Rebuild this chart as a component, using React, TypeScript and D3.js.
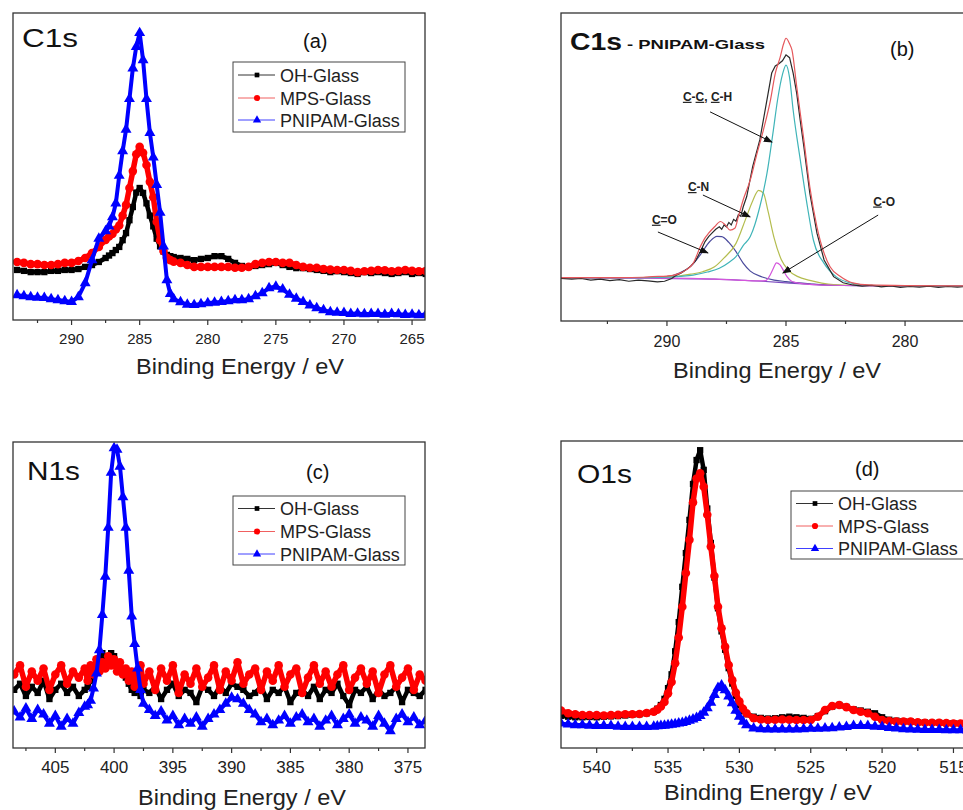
import React from 'react';
import * as d3 from 'd3';

const FONT = "'Liberation Sans', Arial, Helvetica, sans-serif";

// ---------- Panel (a) C1s : energy grid (eV) and intensities (a.u., % of panel) ----------
const aEnergy = [
  ...d3.range(294, 287.4, -0.5),
  ...d3.range(287.25, 282.4, -0.25),
  ...d3.range(282, 263.9, -0.5),
];
const aOH = [
  16.3, 16.0, 15.6, 15.6, 15.6, 16.0, 16.0, 16.3, 16.3, 16.6, 17.3, 17.9, 18.9, 20.2,
  21.0, 21.8, 22.8, 23.8, 26.0, 28.3, 32.5, 36.8, 41.5, 43.0, 41.4, 38.0, 34.0, 30.5, 26.5, 24.0, 22.3, 21.2, 20.8, 20.5,
  20.2, 19.9, 19.5, 19.9, 20.2, 20.8, 20.8, 19.9, 18.6, 17.6,
  17.3, 17.6, 17.9, 18.2, 18.6, 17.9, 17.3, 16.9, 16.9, 16.6,
  16.3, 16.0, 15.6, 15.9, 15.6, 15.3, 15.0, 15.6, 15.3, 15.6,
  15.3, 15.0, 15.3, 15.6, 15.0, 15.3, 15.0,
];
const aMPS = [
  18.9, 18.6, 18.2, 18.2, 17.9, 17.9, 18.2, 18.6, 18.6, 19.2, 20.2, 21.8, 23.8, 26.1,
  27.2, 28.0, 29.5, 30.8, 34.0, 37.5, 43.0, 48.5, 54.0, 56.4, 54.5, 50.5, 45.0, 40.0, 32.0, 26.0, 22.5, 20.3, 19.5, 19.0,
  18.6, 17.9, 17.3, 17.3, 17.3, 17.3, 17.3, 17.3, 17.0, 17.0,
  17.3, 18.2, 18.6, 18.9, 18.9, 18.6, 18.6, 17.9, 17.3, 17.0,
  17.0, 16.6, 16.4, 16.3, 16.3, 16.0, 15.6, 15.9, 16.0, 16.3,
  16.2, 15.9, 16.0, 16.3, 16.0, 15.9, 16.0,
];
const aPNIPAM = [
  8.1, 7.8, 7.5, 7.3, 7.2, 6.8, 6.5, 6.2, 5.9, 7.5, 12.0, 19.5, 26.5, 29.0,
  30.5, 33.5, 38.0, 47.0, 55.0, 62.0, 72.0, 82.0, 89.0, 93.5, 84.7, 72.0, 61.0, 53.0, 44.0, 35.0, 24.0, 13.0, 8.5, 6.8,
  5.8, 5.0, 4.9, 5.2, 5.5, 5.7, 5.9, 6.2, 6.5, 6.5,
  6.8, 7.8, 8.8, 10.4, 10.9, 10.0, 8.3, 7.0, 5.9, 4.8,
  3.9, 3.2, 2.6, 2.4, 2.3, 2.0, 2.1, 1.9, 2.0, 2.0,
  1.8, 2.0, 1.9, 1.7, 1.8, 1.6, 1.7,
];
const aMajor = [290, 285, 280, 275, 270, 265];
const aMinor = [292.5, 287.5, 282.5, 277.5, 272.5, 267.5];

// ---------- Panel (c) N1s ----------
const cEnergy = [
  ...d3.range(408.5, 402.4, -0.5),
  ...d3.range(402.25, 397.4, -0.25),
  ...d3.range(397, 373.4, -0.5),
];
const cOH = [
  19, 21, 17, 20, 18, 22, 16, 19, 21, 18, 20, 17, 19,
  20, 22, 24, 27, 29, 31, 30, 29, 31, 30, 28, 27, 25, 23, 21, 19, 18, 20, 17, 19,
  18, 20, 16, 19, 21, 17, 19, 18, 15, 20,
  19, 17, 20, 18, 21, 20, 19, 17, 18, 20,
  16, 19, 18, 20, 15, 18, 19, 17, 20, 16,
  19, 18, 21, 17, 14, 19, 18, 20, 16, 19,
  17, 18, 20, 15, 19, 18, 17, 19,
];
const cMPS = [
  24, 27, 20, 25, 22, 26, 19, 24, 27, 21, 25, 23, 26,
  22, 27, 24, 29, 25, 28, 26, 30, 27, 29, 25, 28, 24, 26, 22, 25, 20, 24, 27, 21,
  25, 19, 26, 22, 27, 18, 24, 21, 26, 20,
  23, 27, 19, 25, 22, 28, 21, 24, 26, 19,
  25, 22, 27, 20, 24, 26, 18, 23, 27, 21,
  25, 20, 24, 27, 19, 23, 26, 21, 25, 18,
  24, 27, 20, 23, 26, 19, 24, 22,
];
const cPNIPAM = [
  12.0, 10.0, 13.0, 9.5, 12.5, 11.0, 8.0, 10.5, 7.0, 9.5, 8.0, 11.5, 13.5,
  14.0, 15.5, 19.5, 24.4, 32.0, 43.5, 56.0, 72.0, 90.0, 98.0, 97.5, 92.0, 82.0, 72.0, 58.0, 43.0, 34.0, 26.0, 19.0, 14.5,
  12.5, 10.5, 12.0, 9.0, 10.5, 7.5, 9.5, 8.0, 10.0, 7.0,
  9.5, 11.0, 12.5, 14.5, 16.5, 16.0, 14.5, 12.5, 11.0, 8.5,
  9.5, 7.5, 9.0, 10.5, 8.0, 10.0, 11.0, 8.5, 9.5, 7.0,
  9.0, 10.5, 7.5, 9.5, 11.0, 8.0, 10.0, 9.0, 7.0, 10.5,
  8.0, 5.5, 9.5, 11.0, 8.5, 10.0, 7.5, 9.0,
];
const cMajor = [405, 400, 395, 390, 385, 380, 375];
const cMinor = [407.5, 402.5, 397.5, 392.5, 387.5, 382.5, 377.5];

// ---------- Panel (d) O1s ----------
const dEnergy = [
  ...d3.range(542.5, 535.9, -0.5),
  ...d3.range(535.75, 529.4, -0.25),
  ...d3.range(529, 513.4, -0.5),
];
const dOH = [
  10.5, 10.2, 10.0, 10.0, 10.1, 10.0, 10.2, 10.3, 10.4, 10.6, 10.8, 11.0, 11.3, 11.8,
  12.8, 14.0, 16.0, 19.5, 24.0, 31.5, 41.0, 52.5, 63.5, 74.3, 86.0, 93.8, 97.0, 90.6, 78.0, 66.8, 55.5, 45.5, 38.0, 32.0, 26.0, 21.0, 17.0, 14.0, 12.0, 11.0,
  10.2, 9.8, 9.6, 9.7, 10.0, 10.2, 10.0, 9.8, 9.5, 10.4,
  12.0, 13.5, 14.0, 13.4, 12.6, 12.2, 11.8, 11.3, 10.0, 9.2,
  8.9, 8.7, 8.6, 8.4, 8.3, 8.2, 8.2, 8.1, 8.1, 8.0,
  8.0, 8.0,
];
const dMPS = [
  12.2, 11.3, 11.0, 10.7, 10.7, 10.7, 10.6, 10.7, 10.8, 11.0, 11.0, 11.1, 11.4, 11.8,
  12.5, 13.5, 15.0, 17.8, 21.5, 27.6, 36.0, 46.0, 57.0, 67.8, 80.0, 87.8, 89.5, 85.1, 76.0, 65.6, 56.0, 46.0, 39.0, 33.0, 27.0, 22.1, 18.0, 15.1, 12.8, 11.3,
  9.7, 9.3, 9.1, 9.2, 9.3, 9.2, 9.1, 9.1, 9.1, 10.2,
  12.4, 13.7, 14.0, 13.3, 12.4, 11.8, 11.3, 10.2, 9.1, 8.8,
  8.6, 8.6, 8.6, 8.4, 8.2, 8.2, 8.2, 8.1, 8.0, 8.0,
  8.0, 8.0,
];
const dPNIPAM = [
  8.0, 7.7, 7.5, 7.5, 7.3, 7.2, 7.2, 7.2, 7.0, 6.9, 6.9, 6.9, 6.9, 7.0,
  7.1, 7.2, 7.3, 7.5, 7.6, 7.8, 8.0, 8.2, 8.5, 8.9, 9.3, 9.8, 10.5, 11.5, 13.0, 14.8, 17.3, 19.6, 20.4, 18.9, 16.8, 14.6, 12.2, 10.2, 8.6, 7.5,
  6.4, 6.2, 6.1, 6.1, 6.1, 6.1, 6.1, 6.2, 6.3, 6.3,
  6.4, 6.5, 6.7, 6.9, 7.2, 7.2, 7.2, 7.0, 6.9, 6.6,
  6.4, 6.2, 6.1, 6.0, 5.9, 5.9, 5.9, 5.8, 5.8, 5.8,
  5.7, 5.7,
];
const dMajor = [540, 535, 530, 525, 520, 515];
const dMinor = [537.5, 532.5, 527.5, 522.5, 517.5];

// ---------- Panel (b) C1s fit of PNIPAM-Glass: [energy, intensity] ----------
const bRaw: [number, number][] = [
  [294.5, 13.9], [294, 13.6], [293.6, 13.8], [293.2, 13.3], [292.8, 13.6], [292.4, 13.1], [292, 13.4], [291.6, 12.9],
  [291.2, 13.3], [290.8, 13.0], [290.4, 12.7], [290.1, 12.9], [289.8, 13.8], [289.6, 14.9], [289.4, 15.6], [289.2, 16.6],
  [289.0, 17.8], [288.8, 19.5], [288.6, 22.5], [288.4, 25.8], [288.25, 27.4], [288.1, 28.6], [287.95, 29.8], [287.8, 30.6],
  [287.7, 29.8], [287.6, 31.2], [287.5, 30.6], [287.4, 32.0], [287.3, 31.2], [287.2, 33.0], [287.1, 32.4], [287.0, 34.5],
  [286.9, 34.0], [286.8, 37.0], [286.65, 40.4], [286.4, 50.1], [286.1, 58.8], [285.8, 71.8], [285.6, 80.5], [285.45, 82.8],
  [285.3, 83.5], [285.15, 84.5], [285.0, 86.4], [284.85, 85.5], [284.7, 80.5], [284.55, 73.9], [284.4, 65.0], [284.25, 56.6],
  [284.0, 41.5], [283.7, 28.5], [283.4, 19.8], [283.0, 14.4], [282.6, 12.4], [282.2, 11.7], [281.8, 11.3], [281.4, 11.6],
  [281.0, 11.1], [280.6, 11.4], [280.2, 10.9], [279.8, 11.2], [279.4, 11.0], [279.0, 11.3], [278.6, 10.9], [278.2, 11.2],
  [277.8, 11.0], [277.4, 11.2], [276.6, 11.1],
];
const bFit: [number, number][] = [
  [294.5, 14.1], [292, 14.1], [291, 14.2], [290.6, 14.4], [290, 14.6], [289.7, 14.9], [289.4, 15.7], [289.2, 16.6],
  [288.9, 18.7], [288.6, 24.1], [288.4, 27.0], [288.25, 28.5], [288.0, 30.6], [287.75, 32.3], [287.55, 31.2], [287.35, 29.5],
  [287.15, 30.1], [287.0, 33.9], [286.8, 39.3], [286.5, 45.8], [286.25, 53.4], [285.95, 62.0], [285.65, 71.8], [285.45, 80.4],
  [285.25, 85.5], [285.1, 90.0], [285.0, 91.8], [284.85, 90.0], [284.75, 88.0], [284.55, 76.1], [284.25, 58.8], [284.0, 43.6],
  [283.7, 30.6], [283.4, 22.0], [283.15, 17.6], [282.7, 14.4], [282.2, 12.4], [281.5, 11.7], [280, 11.5], [276.6, 11.4],
];
const bCC: [number, number][] = [
  [294.5, 14.0], [291, 14.1], [290, 14.2], [289.5, 14.5], [288.9, 14.9], [288.3, 15.9], [287.8, 17.1], [287.4, 19.0],
  [287.1, 20.9], [286.8, 24.5], [286.5, 27.4], [286.3, 31.5], [286.1, 37.1], [285.95, 42.0], [285.8, 47.9], [285.55, 60.9],
  [285.35, 72.0], [285.15, 80.0], [285.0, 83.1], [284.85, 79.0], [284.7, 68.5], [284.4, 52.3], [284.1, 37.1], [283.85, 26.3],
  [283.4, 18.7], [282.9, 14.4], [282.2, 12.2], [281.5, 11.6], [280, 11.4], [276.6, 11.3],
];
const bCN: [number, number][] = [
  [294.5, 14.0], [291, 14.1], [290, 14.3], [289.5, 14.6], [289, 15.2], [288.5, 16.0], [288, 17.6], [287.6, 20.5],
  [287.1, 25.2], [286.7, 33.0], [286.4, 39.0], [286.15, 42.4], [285.95, 41.5], [285.75, 35.5], [285.5, 27.0], [285.2, 20.0],
  [284.9, 16.5], [284.5, 14.4], [284, 13.2], [283.5, 12.3], [283, 11.8], [281, 11.4], [276.6, 11.3],
];
const bCdO: [number, number][] = [
  [294.5, 14.0], [292, 14.0], [291, 14.1], [290, 14.4], [289.5, 15.5], [289, 17.8], [288.6, 21.5], [288.2, 25.8],
  [287.9, 27.5], [287.7, 27.4], [287.4, 25.5], [287.1, 22.5], [286.8, 18.8], [286.5, 16.2], [286, 14.3], [285.5, 13.3],
  [285, 12.8], [284, 12.1], [283, 11.6], [281, 11.4], [276.6, 11.3],
];
const bCO: [number, number][] = [
  [294.5, 14.0], [290, 13.9], [288, 13.6], [287, 13.3], [286.2, 13.0], [285.85, 13.1], [285.7, 14.5], [285.55, 16.8],
  [285.4, 18.9], [285.25, 18.2], [285.1, 16.3], [284.95, 14.3], [284.75, 12.8], [284.4, 12.2], [284, 11.9], [283, 11.6],
  [281, 11.4], [276.6, 11.3],
];
const bBg: [number, number][] = [
  [294.5, 14.0], [291, 13.9], [289, 13.7], [288, 13.6], [287, 13.3], [286, 12.9], [285, 12.4], [284, 11.9],
  [283, 11.6], [281, 11.4], [276.6, 11.3],
];
const bMajor = [290, 285, 280];
const bMinor = [292.5, 287.5, 282.5, 277.5];

// annotation labels: text parts (u = underlined), text anchor (E, I), arrow from -> to (E, I)
const bNotes = [
  { parts: [{ t: 'C', u: true }, { t: '-' }, { t: 'C', u: true }, { t: ', ' }, { t: 'C', u: true }, { t: '-H' }], at: [289.33, 71.5], from: [288.19, 67.9], to: [285.59, 58.1] },
  { parts: [{ t: 'C', u: true }, { t: '-N' }], at: [289.12, 42.2], from: [288.49, 40.9], to: [286.51, 33.8] },
  { parts: [{ t: 'C', u: true }, { t: '=O' }], at: [290.63, 31.6], from: [290.38, 28.9], to: [288.28, 22.1] },
  { parts: [{ t: 'C', u: true }, { t: '-O' }], at: [281.34, 37.5], from: [281.13, 34.4], to: [285.13, 15.6] },
];

const seriesNames = ['OH-Glass', 'MPS-Glass', 'PNIPAM-Glass'];
const seriesColors = ['#000000', '#ff0000', '#0000ff'];
const legendLineColors = ['#333333', '#f06060', '#4040ff'];
const symbols = [d3.symbolSquare, d3.symbolCircle, d3.symbolTriangle];
const symSizes = [40, 58, 52];
const bandWidths = [4.5, 5.5, 4];
const legSizes = [22, 30, 30];

type PanelCfg = {
  id: string; left: number; right: number; top: number; bottom: number; domain: [number, number];
  energy: number[]; values: number[][]; majors: number[]; minors: number[];
  tickFont: number; tickBase: number; titleX: number; titleY: number;
  label: string; labelX: number; labelY: number; labelLen: number;
  tag: string; tagX: number; tagY: number;
  legend: { x: number; y: number; w: number; h: number; rows: number[] };
};

function Axis({ x, p }: { x: d3.ScaleLinear<number, number>; p: any }) {
  return (
    <g>
      {p.majors.map((t: number) => (
        <g key={'M' + t}>
          <line x1={x(t)} x2={x(t)} y1={p.bottom} y2={p.bottom + 5} stroke="#333" strokeWidth={1.2} />
          <text x={x(t)} y={p.tickBase} textAnchor="middle" fontSize={p.tickFont} fontFamily={FONT} fill="#222">{t}</text>
        </g>
      ))}
      {p.minors.map((t: number) => (
        <line key={'m' + t} x1={x(t)} x2={x(t)} y1={p.bottom} y2={p.bottom + 3} stroke="#333" strokeWidth={1.2} />
      ))}
      <text x={p.titleX} y={p.titleY} textAnchor="middle" fontSize={22} fontFamily={FONT} fill="#222"
        textLength={208} lengthAdjust="spacingAndGlyphs">Binding Energy / eV</text>
    </g>
  );
}

function Legend({ l }: { l: PanelCfg['legend'] }) {
  return (
    <g>
      <rect x={l.x} y={l.y} width={l.w} height={l.h} fill="#fff" stroke="#444" strokeWidth={1} />
      {seriesNames.map((n, i) => {
        const cy = l.rows[i];
        const sym = d3.symbol().type(symbols[i]).size(legSizes[i])() as string;
        return (
          <g key={n}>
            <line x1={l.x + 5} x2={l.x + 42} y1={cy} y2={cy} stroke={legendLineColors[i]} strokeWidth={1} />
            <path d={sym} transform={`translate(${l.x + 24},${cy})`} fill={seriesColors[i]} />
            <text x={l.x + 47} y={cy + 6.5} fontSize={18} fontFamily={FONT} fill="#222">{n}</text>
          </g>
        );
      })}
    </g>
  );
}

function Panel({ p }: { p: PanelCfg }) {
  const x = d3.scaleLinear().domain(p.domain).range([p.left, p.right]);
  const y = d3.scaleLinear().domain([0, 100]).range([p.bottom, p.top]);
  const clipId = 'clip-' + p.id;
  const line = d3.line<[number, number]>().x(d => x(d[0])).y(d => y(d[1]));
  return (
    <g>
      <defs>
        <clipPath id={clipId}>
          <rect x={p.left} y={p.top} width={p.right - p.left} height={p.bottom - p.top} />
        </clipPath>
      </defs>
      <g clipPath={`url(#${clipId})`}>
        {p.values.map((vals, si) => {
          const pts: [number, number][] = vals.map((v, i) => [p.energy[i], v] as [number, number]).filter(d => d[0] !== undefined);
          const sym = d3.symbol().type(symbols[si]).size(symSizes[si])() as string;
          const dPath = line(pts) || '';
          return (
            <g key={si}>
              <path d={dPath} fill="none" stroke={seriesColors[si]} strokeWidth={bandWidths[si]} strokeLinejoin="round" strokeLinecap="round" />
              {pts.map((d, i) => (
                <path key={i} d={sym} transform={`translate(${x(d[0])},${y(d[1])})`} fill={seriesColors[si]} />
              ))}
            </g>
          );
        })}
      </g>
      <rect x={p.left} y={p.top} width={p.right - p.left} height={p.bottom - p.top} fill="none" stroke="#333" strokeWidth={1.3} />
      <Axis x={x} p={p} />
      <text x={p.labelX} y={p.labelY} fontSize={25} fontFamily={FONT} fill="#111" textLength={p.labelLen} lengthAdjust="spacingAndGlyphs">{p.label}</text>
      <text x={p.tagX} y={p.tagY} fontSize={20} fontFamily={FONT} fill="#111">{p.tag}</text>
      <Legend l={p.legend} />
    </g>
  );
}

const panelA: PanelCfg = {
  id: 'a', left: 13, right: 425, top: 13, bottom: 320, domain: [294.3, 264.05],
  energy: aEnergy, values: [aOH, aMPS, aPNIPAM], majors: aMajor, minors: aMinor,
  tickFont: 15, tickBase: 344, titleX: 240, titleY: 374,
  label: 'C1s', labelX: 22, labelY: 47, labelLen: 56, tag: '(a)', tagX: 303, tagY: 48,
  legend: { x: 233, y: 62, w: 172, h: 70, rows: [75, 98, 120] },
};
const panelC: PanelCfg = {
  id: 'c', left: 13, right: 425, top: 442, bottom: 748, domain: [408.6, 373.55],
  energy: cEnergy, values: [cOH, cMPS, cPNIPAM], majors: cMajor, minors: cMinor,
  tickFont: 17, tickBase: 773, titleX: 242, titleY: 805,
  label: 'N1s', labelX: 27, labelY: 480, labelLen: 53, tag: '(c)', tagX: 306, tagY: 479,
  legend: { x: 233, y: 496, w: 172, h: 69, rows: [508.5, 531.5, 554] },
};
const panelD: PanelCfg = {
  id: 'd', left: 561, right: 982, top: 441, bottom: 748, domain: [542.5, 513],
  energy: dEnergy, values: [dOH, dMPS, dPNIPAM], majors: dMajor, minors: dMinor,
  tickFont: 17, tickBase: 773, titleX: 768, titleY: 800,
  label: 'O1s', labelX: 577, labelY: 483, labelLen: 55, tag: '(d)', tagX: 855, tagY: 476,
  legend: { x: 791, y: 491, w: 176, h: 68, rows: [503.5, 526, 548.5] },
};

const panelB = {
  left: 561, right: 986, top: 13, bottom: 321, domain: [294.45, 276.6] as [number, number],
  majors: bMajor, minors: bMinor, tickFont: 16, tickBase: 347, titleX: 777, titleY: 378,
};

function PanelB() {
  const p = panelB;
  const x = d3.scaleLinear().domain(p.domain).range([p.left, p.right]);
  const y = d3.scaleLinear().domain([0, 100]).range([p.bottom, p.top]);
  const smooth = d3.line<[number, number]>().x(d => x(d[0])).y(d => y(d[1])).curve(d3.curveMonotoneX);
  const raw = d3.line<[number, number]>().x(d => x(d[0])).y(d => y(d[1]));
  const curves: { data: [number, number][]; color: string; smooth: boolean }[] = [
    { data: bBg, color: '#7d4cc0', smooth: true },
    { data: bCdO, color: '#4a4a9c', smooth: true },
    { data: bCN, color: '#b4bd4f', smooth: true },
    { data: bCO, color: '#d456dc', smooth: true },
    { data: bCC, color: '#3fb4b8', smooth: true },
    { data: bRaw, color: '#2a2a2a', smooth: false },
    { data: bFit, color: '#e5585c', smooth: true },
  ];
  return (
    <g>
      <defs>
        <clipPath id="clip-b">
          <rect x={p.left} y={p.top} width={p.right - p.left} height={p.bottom - p.top} />
        </clipPath>
        <marker id="arrowhead" markerUnits="userSpaceOnUse" markerWidth={9} markerHeight={7} refX={8} refY={3.5} orient="auto">
          <path d="M0,0 L9,3.5 L0,7 Z" fill="#111" />
        </marker>
      </defs>
      <g clipPath="url(#clip-b)">
        {curves.map((c, i) => (
          <path key={i} d={(c.smooth ? smooth(c.data) : raw(c.data)) || ''} fill="none" stroke={c.color} strokeWidth={1.2} />
        ))}
      </g>
      <rect x={p.left} y={p.top} width={p.right - p.left} height={p.bottom - p.top} fill="none" stroke="#333" strokeWidth={1.3} />
      <Axis x={x} p={p} />
      {bNotes.map((n, i) => (
        <g key={i}>
          <text x={x(n.at[0])} y={y(n.at[1])} fontSize={12} fontWeight="bold" fontFamily={FONT} fill="#222">
            {n.parts.map((pt: any, j: number) => (
              <tspan key={j} style={pt.u ? { textDecoration: 'underline' } : undefined}>{pt.t}</tspan>
            ))}
          </text>
          <line x1={x(n.from[0])} y1={y(n.from[1])} x2={x(n.to[0])} y2={y(n.to[1])} stroke="#111" strokeWidth={1} markerEnd="url(#arrowhead)" />
        </g>
      ))}
      <text x={570} y={50} fontSize={23} fontWeight="bold" fontFamily={FONT} fill="#111" textLength={52} lengthAdjust="spacingAndGlyphs">C1s</text>
      <text x={627} y={49} fontSize={13.5} fontWeight="bold" fontFamily={FONT} fill="#111" textLength={138} lengthAdjust="spacingAndGlyphs">- PNIPAM-Glass</text>
      <text x={890} y={56} fontSize={20} fontFamily={FONT} fill="#111">(b)</text>
    </g>
  );
}

export default function App() {
  return (
    <svg width={963} height={810} viewBox="0 0 963 810"
      style={{ position: 'absolute', left: 0, top: 0, background: '#fff', display: 'block' }}>
      <rect x={0} y={0} width={963} height={810} fill="#fff" />
      <Panel p={panelA} />
      <PanelB />
      <Panel p={panelC} />
      <Panel p={panelD} />
    </svg>
  );
}
